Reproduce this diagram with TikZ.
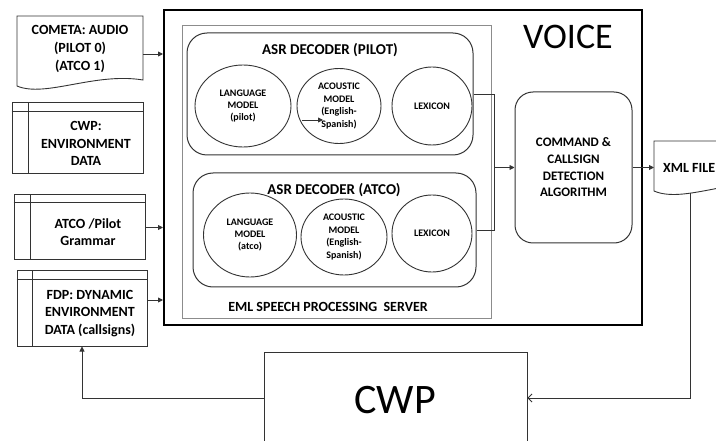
\documentclass[tikz,border=0pt]{standalone}
\usepackage{fontspec}
\setmainfont{Carlito}
\usetikzlibrary{shapes.geometric,arrows.meta}
\definecolor{ln}{HTML}{333333}
\definecolor{lgray}{HTML}{8C8C8C}
\begin{document}
\begin{tikzpicture}[x=1pt,y=-1pt,
  box/.style={draw=ln, line width=1pt, inner sep=0pt},
  decbox/.style={draw=ln, line width=1pt, rounded corners=20pt, inner sep=0pt},
  ell/.style={ellipse, draw=ln, line width=0.9pt, inner sep=0pt, align=center,
     font=\fontsize{10}{12.4}\selectfont\bfseries},
  lefttxt/.style={align=center, inner sep=0pt, font=\fontsize{14}{17.5}\selectfont\bfseries},
  arr/.style={draw=ln, line width=0.9pt, -{Triangle[length=5pt,width=5pt]}},
  ln1/.style={draw=ln, line width=0.9pt}
]
\useasboundingbox (0,0) rectangle (716,441);
\clip (0,0) rectangle (716,441);

% ---------- VOICE frame ----------
\node[draw=black, line width=2pt, minimum width=478pt, minimum height=315pt, inner sep=0pt] (voice) at (403,167.5) {};
\node[inner sep=0pt, font=\fontsize{36}{40}\selectfont] (voicelbl) at (568,37) {VOICE};

% EML server
\node[draw=lgray, line width=0.8pt, minimum width=309pt, minimum height=293pt, inner sep=0pt] (eml) at (336.5,171.5) {};
\node[inner sep=0pt, font=\fontsize{14}{16}\selectfont\bfseries] (emllbl) at (328,307) {EML SPEECH PROCESSING\ \ SERVER};

% Pilot decoder
\node[decbox, minimum width=286pt, minimum height=122pt] (pilotdec) at (330,94) {};
\node[inner sep=0pt, font=\fontsize{15}{17}\selectfont\bfseries] (pilottitle) at (330,50) {ASR DECODER (PILOT)};
\node[ell, minimum width=96pt, minimum height=82pt] (plm) at (243,106) {LANGUAGE\\MODEL\\(pilot)};
\node[ell, minimum width=84pt, minimum height=75pt] (pam) at (339,106) {ACOUSTIC\\MODEL\\(English-\\Spanish)};
\node[ell, minimum width=80pt, minimum height=78pt] (plex) at (432,106) {LEXICON};
\coordinate (sa1) at (302,120);
\coordinate (sa2) at (323,120);
\draw[arr] (sa1) -- (sa2);

% ATCO decoder
\node[decbox, minimum width=283pt, minimum height=114pt] (atcodec) at (334.5,230) {};
\node[inner sep=0pt, font=\fontsize{15}{17}\selectfont\bfseries] (atcotitle) at (334,190) {ASR DECODER (ATCO)};
\node[ell, minimum width=93pt, minimum height=84pt] (alm) at (250,235) {LANGUAGE\\MODEL\\(atco)};
\node[ell, minimum width=86pt, minimum height=76pt] (aam) at (344,237) {ACOUSTIC\\MODEL\\(English-\\Spanish)};
\node[ell, minimum width=80pt, minimum height=77pt] (alex) at (432,233.5) {LEXICON};

% Command box
\node[draw=ln, line width=1pt, rounded corners=18pt, minimum width=117pt, minimum height=151pt,
      inner sep=0pt, align=center, font=\fontsize{13}{16.7}\selectfont\bfseries] (cmd) at (573.5,167.5)
      {COMMAND \&\\CALLSIGN\\DETECTION\\ALGORITHM};

% decoder connectors
\draw[ln1] (pilotdec.east) -- ++(21,0) coordinate (j1) -- (j1 |- atcodec.east) -- (atcodec.east);
\draw[arr] (j1 |- cmd.west) -- (cmd.west);

% ---------- left inputs ----------
% COMETA document
\draw[ln1] (17,86) -- (17,16) -- (143,16) -- (143,80) .. controls (95,72) and (45,98) .. cycle;
\node[lefttxt, font=\fontsize{14}{18}\selectfont\bfseries] (cometa) at (80,49) {COMETA: AUDIO\\(PILOT 0)\\(ATCO 1)};
\coordinate (cmR) at (143,54);
\draw[arr] (cmR) -- (cmR -| voice.west);

% CWP environment data
\node[box, minimum width=131pt, minimum height=71pt] (cwpenv) at (77.5,138.5) {};
\draw[ln1] ([yshift=-9pt]cwpenv.north west) -- ([yshift=-9pt]cwpenv.north east);
\draw[ln1] ([xshift=17pt]cwpenv.north west) -- ([xshift=17pt]cwpenv.south west);
\node[lefttxt] (cwpenvt) at (86,143.5) {CWP:\\ENVIRONMENT\\DATA};

% Grammar
\node[box, minimum width=131pt, minimum height=65pt] (gram) at (79.5,227.5) {};
\draw[ln1] ([yshift=-8pt]gram.north west) -- ([yshift=-8pt]gram.north east);
\draw[ln1] ([xshift=17pt]gram.north west) -- ([xshift=17pt]gram.south west);
\node[lefttxt] (gramt) at (88,232) {ATCO /Pilot\\Grammar};
\draw[arr] (gram.east) -- (gram.east -| voice.west);

% FDP
\node[box, minimum width=130pt, minimum height=75pt] (fdp) at (82,308.5) {};
\draw[ln1] ([yshift=-9pt]fdp.north west) -- ([yshift=-9pt]fdp.north east);
\draw[ln1] ([xshift=16pt]fdp.north west) -- ([xshift=16pt]fdp.south west);
\node[lefttxt] (fdpt) at (90,313.5) {FDP: DYNAMIC\\ENVIRONMENT\\DATA (callsigns)};
\coordinate (fdpR) at (147,300);
\draw[arr] (fdpR) -- (fdpR -| voice.west);

% ---------- XML file ----------
\draw[ln1] (654,191) -- (654,141) -- (790,141) -- (790,183) .. controls (735,176) and (684,204) .. cycle;
\node[anchor=west, inner sep=0pt, font=\fontsize{14}{16}\selectfont\bfseries] (xml) at (663,168) {XML FILE};
\coordinate (xmlL) at (654,167.5);
\draw[arr] (cmd.east) -- (xmlL);

% ---------- CWP ----------
\node[draw=ln, line width=0.9pt, minimum width=263pt, minimum height=120pt, inner sep=0pt] (cwp) at (395.5,412) {};
\node[inner sep=0pt, font=\fontsize{42}{46}\selectfont] (cwplbl) at (395,400) {CWP};
\coordinate (xmlB) at (690,193);
\coordinate (cwpR) at ([yshift=14pt]cwp.east);
\coordinate (cwpL) at ([yshift=14pt]cwp.west);
\draw[draw=ln, line width=0.8pt, -{Straight Barb[length=4pt,width=8pt]}] (xmlB) -- (xmlB |- cwpR) -- (cwpR);
\draw[arr] (cwpL) -- (cwpL -| fdp.south) -- (fdp.south);
\end{tikzpicture}
\end{document}
